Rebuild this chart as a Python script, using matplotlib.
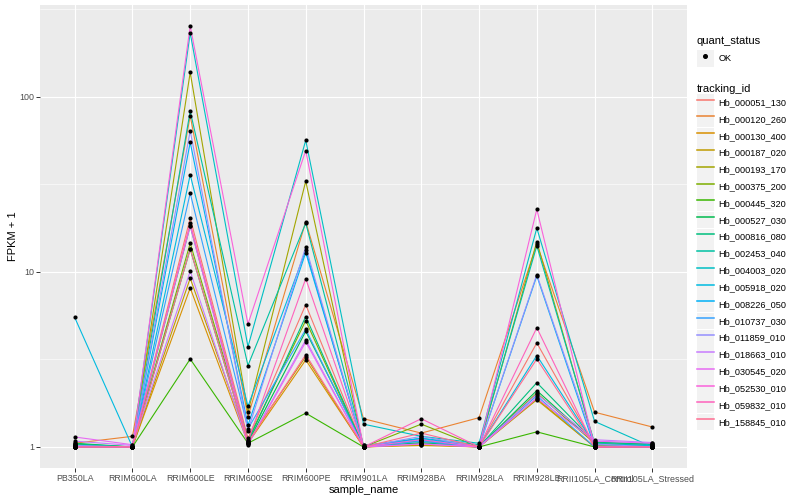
import numpy as np
import matplotlib
matplotlib.use("Agg")
import matplotlib.pyplot as plt
from matplotlib.lines import Line2D
from matplotlib.patches import Patch
from matplotlib.legend_handler import HandlerTuple

plt.rcParams["font.family"] = ["Liberation Sans", "DejaVu Sans"]

samples = ["PB350LA", "RRIM600LA", "RRIM600LE", "RRIM600SE", "RRIM600PE",
           "RRIM901LA", "RRIM928BA", "RRIM928LA", "RRIM928LE",
           "RRII105LA_Control", "RRII105LA_Stressed"]

tracking_ids = ["Hb_000051_130", "Hb_000120_260", "Hb_000130_400", "Hb_000187_020",
                "Hb_000193_170", "Hb_000375_200", "Hb_000445_320", "Hb_000527_030",
                "Hb_000816_080", "Hb_002453_040", "Hb_004003_020", "Hb_005918_020",
                "Hb_008226_050", "Hb_010737_030", "Hb_011859_010", "Hb_018663_010",
                "Hb_030545_020", "Hb_052530_010", "Hb_059832_010", "Hb_158845_010"]

colors = ["#F8766D", "#EA8331", "#D89000", "#C09B00", "#A3A500", "#7CAE00", "#39B600",
          "#00BB4E", "#00BF7D", "#00C1A3", "#00BFC4", "#00BAE0", "#00B0F6", "#35A2FF",
          "#9590FF", "#C77CFF", "#E76BF3", "#FA62DB", "#FF62BC", "#FF6C91"]

# FPKM + 1 per sample (order of `samples`)
hb_000051_130 = [1.02, 1.00, 20.3, 1.12, 6.50, 1.00, 1.05, 1.00, 3.93, 1.02, 1.00]
hb_000120_260 = [1.05, 1.15, 78.0, 1.49, 19.4, 1.45, 1.20, 1.47, 14.4, 1.58, 1.30]
hb_000130_400 = [1.00, 1.00, 8.10, 1.05, 3.14, 1.00, 1.02, 1.00, 1.89, 1.00, 1.00]
hb_000187_020 = [1.00, 1.00, 9.20, 1.08, 3.28, 1.00, 1.03, 1.00, 1.86, 1.00, 1.00]
hb_000193_170 = [1.00, 1.00, 138., 1.58, 33.0, 1.00, 1.10, 1.00, 14.9, 1.03, 1.02]
hb_000375_200 = [1.03, 1.00, 14.6, 1.10, 5.27, 1.00, 1.35, 1.00, 2.03, 1.05, 1.00]
hb_000445_320 = [1.00, 1.00, 3.18, 1.05, 1.56, 1.00, 1.05, 1.00, 1.22, 1.00, 1.00]
hb_000527_030 = [1.05, 1.00, 13.5, 1.06, 4.58, 1.02, 1.08, 1.00, 2.10, 1.06, 1.04]
hb_000816_080 = [1.04, 1.00, 18.3, 1.07, 5.56, 1.00, 1.06, 1.00, 2.33, 1.07, 1.03]
hb_002453_040 = [1.02, 1.00, 83.0, 2.92, 19.0, 1.02, 1.12, 1.03, 14.1, 1.05, 1.02]
hb_004003_020 = [1.00, 1.00, 232., 3.74, 56.5, 1.35, 1.15, 1.05, 17.8, 1.40, 1.00]
hb_005918_020 = [5.50, 1.00, 35.9, 1.71, 13.3, 1.00, 1.10, 1.00, 3.33, 1.03, 1.02]
hb_008226_050 = [1.01, 1.00, 55.0, 1.33, 12.9, 1.00, 1.12, 1.00, 9.50, 1.00, 1.00]
hb_010737_030 = [1.00, 1.00, 28.2, 1.27, 4.70, 1.00, 1.08, 1.00, 1.96, 1.00, 1.00]
hb_011859_010 = [1.02, 1.00, 64.0, 1.24, 13.9, 1.00, 1.15, 1.00, 9.65, 1.04, 1.00]
hb_018663_010 = [1.08, 1.02, 10.1, 1.04, 4.09, 1.00, 1.04, 1.00, 2.00, 1.10, 1.06]
hb_030545_020 = [1.14, 1.03, 18.3, 1.03, 3.98, 1.00, 1.04, 1.00, 1.90, 1.08, 1.05]
hb_052530_010 = [1.00, 1.00, 254., 5.04, 49.4, 1.00, 1.10, 1.00, 22.8, 1.00, 1.00]
hb_059832_010 = [1.00, 1.00, 19.0, 1.08, 9.15, 1.00, 1.45, 1.00, 4.80, 1.00, 1.00]
hb_158845_010 = [1.00, 1.00, 13.5, 1.06, 3.37, 1.00, 1.20, 1.00, 3.18, 1.00, 1.00]

series = [hb_000051_130, hb_000120_260, hb_000130_400, hb_000187_020, hb_000193_170,
          hb_000375_200, hb_000445_320, hb_000527_030, hb_000816_080, hb_002453_040,
          hb_004003_020, hb_005918_020, hb_008226_050, hb_010737_030, hb_011859_010,
          hb_018663_010, hb_030545_020, hb_052530_010, hb_059832_010, hb_158845_010]

fig = plt.figure(figsize=(8, 5), dpi=100)
ax = fig.add_axes([40 / 800, 1 - 468 / 500, 647 / 800, 463 / 500])
ax.set_facecolor("#EBEBEB")

x = np.arange(len(samples))
for vals, c in zip(series, colors):
    ax.plot(x, vals, color=c, lw=0.8, zorder=3, solid_capstyle="butt")
for vals in series:
    ax.scatter(x, vals, s=9, color="black", marker="o", zorder=4, linewidths=0)

ax.set_yscale("log")
allv = np.log10(np.concatenate([np.array(v) for v in series]))
lo, hi = allv.min(), allv.max()
pad = 0.05 * (hi - lo)
ax.set_ylim(10 ** (lo - pad), 10 ** (hi + pad))
ax.set_xlim(-0.6, len(samples) - 1 + 0.6)

ax.set_yticks([1, 10, 100])
ax.set_yticklabels(["1", "10", "100"])
ax.set_yticks([10 ** 0.5, 10 ** 1.5, 10 ** 2.5], minor=True)
ax.yaxis.set_minor_formatter(matplotlib.ticker.NullFormatter())
ax.set_xticks(x)
ax.set_xticklabels(samples)

ax.grid(which="major", color="white", lw=0.8, zorder=1)
ax.grid(which="minor", axis="y", color="white", lw=0.4, zorder=1)
ax.set_axisbelow(True)
for s in ax.spines.values():
    s.set_visible(False)
ax.tick_params(which="major", length=2.7, width=0.7, color="#333333",
               labelsize=6.4, labelcolor="#4D4D4D", pad=1.5)
ax.tick_params(which="minor", length=0)

ax.set_xlabel("sample_name", fontsize=8, color="black", labelpad=1.5)
ax.set_ylabel("FPKM + 1", fontsize=8, color="black", labelpad=0.5)

# legends
hm = {tuple: HandlerTuple(ndivide=1)}
qh = [(Patch(facecolor="#F2F2F2", edgecolor="none"),
       Line2D([], [], ls="none", marker="o", ms=2.6, color="black"))]
leg1 = fig.legend(qh, ["OK"], title="quant_status", loc="upper left",
                  bbox_to_anchor=(694 / 800, 1 - 33 / 500), frameon=False,
                  fontsize=6.6, title_fontsize=8, handlelength=1.9, handleheight=2.4,
                  handletextpad=0.45, borderaxespad=0, borderpad=0.3, handler_map=hm)
leg1._legend_box.align = "left"

th = [(Patch(facecolor="#F2F2F2", edgecolor="none"),
       Line2D([], [], color=c, lw=1.1)) for c in colors]
leg2 = fig.legend(th, tracking_ids, title="tracking_id", loc="upper left",
                  bbox_to_anchor=(694 / 800, 1 - 81 / 500), frameon=False,
                  fontsize=6.6, title_fontsize=8, handlelength=1.9, handleheight=2.4,
                  labelspacing=0.03, handletextpad=0.45, borderaxespad=0, borderpad=0.3,
                  handler_map=hm)
leg2._legend_box.align = "left"

fig.savefig("out.png", dpi=100)
